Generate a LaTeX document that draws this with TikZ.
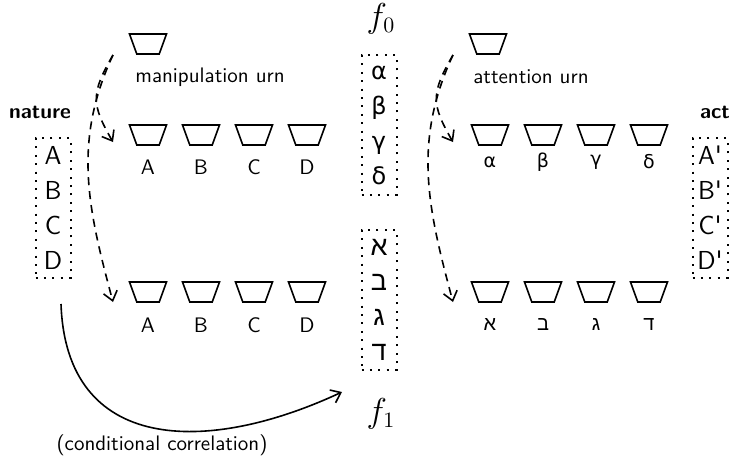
\documentclass[tikz,border=0pt]{standalone}
\usepackage{fontspec}
\newfontfamily\greekfont{DejaVu Sans}
\newfontfamily\hebrewfont[Script=Hebrew]{Liberation Sans}
\usetikzlibrary{arrows.meta,calc,positioning,shapes.geometric}
\tikzset{
  urn/.style    = {trapezium, draw, thick, shape border rotate=180,
                   trapezium angle=72, trapezium stretches=true,
                   minimum width=18.5pt, minimum height=10pt, inner sep=1pt},
  urnlab/.style = {font=\sffamily\fontsize{10.5}{12}\selectfont},
  title/.style  = {font=\sffamily\bfseries\fontsize{10.5}{12}\selectfont},
  dotbox/.style = {draw, line width=1pt, dash pattern=on 1pt off 3.2pt,
                   minimum width=17.5pt, minimum height=70pt, inner sep=0pt,
                   align=center},
  pick/.style   = {thick, dash pattern=on 4pt off 3pt,
                   -{Straight Barb[length=4.5pt,width=7pt]}},
  corr/.style   = {thick, -{Straight Barb[length=4.5pt,width=7pt]}},
  fun/.style    = {font=\fontsize{16}{19}\selectfont},
}

\begin{document}
\begin{tikzpicture}[x=0.5pt,y=-0.5pt]
  \useasboundingbox (0,0) rectangle (730,462);
  % boxes of letters
  \node[title] (nature) at (40,112) {nature};
  \node[dotbox,font=\sffamily\fontsize{13}{17.5}\selectfont] (natbox) at (53,208) {A\\B\\C\\D};
  \node[title] (act) at (715,112) {act};
  \node[dotbox,font=\sffamily\fontsize{13}{17.5}\selectfont] (actbox) at (710,208)
      {A\textquotesingle\\B\textquotesingle\\C\textquotesingle\\D\textquotesingle};
  \node[fun] (f0) at (381,19) {$f_0$};
  \node[dotbox,font=\greekfont\fontsize{12}{17.5}\selectfont] (gbox) at (379,125) {α\\β\\γ\\δ};
  \node[dotbox,font=\hebrewfont\fontsize{13.5}{17.5}\selectfont] (hbox) at (379,300) {א\\ב\\ג\\ד};
  \node[fun] (f1) at (381,414) {$f_1$};
  % urns
  \node[urn] (murn) at (148,44) {};
  \node[urnlab] (mlab) at (210,77) {manipulation urn};
  \node[urn] (aurn) at (488,44) {};
  \node[urnlab] (alab) at (531,77) {attention urn};
  \foreach \i/\x/\l in {1/148/A,2/201/B,3/254/C,4/307/D} {
    \node[urn] (m\i) at (\x,135) {};
    \node[urnlab] at (\x,167) {\l};
    \node[urn] (n\i) at (\x,292) {};
    \node[urnlab] at (\x,325) {\l};
  }
  \foreach \i/\x/\g/\h in {1/490/α/א,2/543/β/ב,3/596/γ/ג,4/649/δ/ד} {
    \node[urn] (a\i) at (\x,135) {};
    \node[font=\greekfont\fontsize{9.5}{11}\selectfont] at (\x,162) {\g};
    \node[urn] (b\i) at (\x,292) {};
    \node[font=\hebrewfont\fontsize{10}{12}\selectfont] at (\x,325) {\h};
  }
  % dashed picks from the urns
  \coordinate (ms) at ($(murn)+(-35,11)$);
  \coordinate (me1) at ($(m1)+(-35,7)$);
  \coordinate (me2) at ($(n1)+(-35,10)$);
  \draw[pick] (ms) to[out=-120,in=120,looseness=1.3] (me1);
  \draw[pick] (ms) to[out=-115,in=105] (me2);
  \coordinate (as) at ($(aurn)+(-35,11)$);
  \coordinate (ae1) at ($(a1)+(-37,7)$);
  \coordinate (ae2) at ($(b1)+(-37,10)$);
  \draw[pick] (as) to[out=-120,in=120,looseness=1.3] (ae1);
  \draw[pick] (as) to[out=-115,in=105] (ae2);
  % correlation
  \coordinate (cs) at ($(natbox.south)+(8,25)$);
  \coordinate (ce) at ($(f1)+(-39,-22)$);
  \draw[corr] (cs) to[out=-88,in=205,looseness=1.3] (ce);
  \node[urnlab] (cond) at (162,445) {(conditional correlation)};
\end{tikzpicture}
\end{document}
